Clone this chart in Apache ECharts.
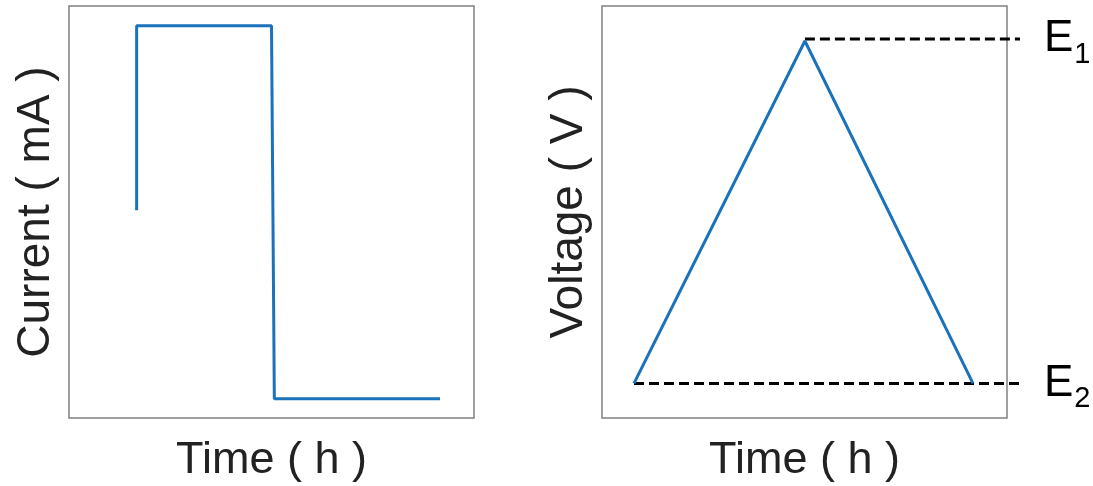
<!DOCTYPE html>
<html>
<head>
<meta charset="utf-8">
<script src="https://cdn.jsdelivr.net/npm/echarts@6/dist/echarts.min.js"></script>
<style>
  html, body { margin: 0; padding: 0; background: #fff; }
  #chart { width: 1093px; height: 486px; }
</style>
</head>
<body>
<div id="chart"></div>
<script>
// Galvanostatic step: current vs time (arbitrary units, 0–100 scale)
const currentTime  = [16.7, 16.7, 50.0, 50.7, 91.6];
const currentValue = [50.4, 95.2, 95.2, 4.7, 4.7];

// Linear potential sweep: voltage vs time
const voltageTime  = [7.9, 50.1, 91.6];
const voltageValue = [8.4, 91.5, 8.4];

// Reference potential levels (dashed guides run past the frame to x = 103.2)
const levelE1 = { start: 50.1, end: 103.2, value: 92.0, name: '1' };
const levelE2 = { start: 7.9,  end: 103.2, value: 8.4,  name: '2' };
const LEVEL_X_MAX = 103.2;

const axisTitles = { left: 'Current ( mA )', right: 'Voltage ( V )', time: 'Time ( h )' };

const FONT = '"Liberation Sans", Arial, Helvetica, sans-serif';
const BLUE = '#1a72bb';
const TEXT = '#222222';
const PLOT_W = 405, PLOT_H = 412;

function zip(xs, ys) { return xs.map((x, i) => [x, ys[i]]); }

function levelSeries(level) {
  return {
    type: 'line',
    xAxisIndex: 2, yAxisIndex: 2,
    symbol: 'none',
    silent: true,
    lineStyle: { color: '#000', width: 3, type: [10, 5] },
    endLabel: {
      show: true,
      distance: 24,
      formatter: '{e|E}{s|' + level.name + '}',
      rich: {
        e: { fontSize: 44, color: '#000', fontFamily: FONT },
        s: { fontSize: 29, color: '#000', fontFamily: FONT, padding: [32, 0, 0, 1] }
      }
    },
    data: [[level.start, level.value], [level.end, level.value]]
  };
}

function valueAxis(extra) {
  return Object.assign({
    type: 'value', min: 0, max: 100,
    axisLine: { show: false }, axisTick: { show: false },
    axisLabel: { show: false }, splitLine: { show: false },
    nameLocation: 'middle',
    nameTextStyle: { fontSize: 46, color: TEXT, fontFamily: FONT }
  }, extra);
}

function grid(left, width, show) {
  return {
    left: left, top: 6, width: width, height: PLOT_H,
    show: show, borderColor: '#808080', borderWidth: 1.5, backgroundColor: 'transparent',
    containLabel: false, outerBoundsMode: 'none'
  };
}

const chart = echarts.init(document.getElementById('chart'), null, { renderer: 'canvas' });
chart.setOption({
  animation: false,
  backgroundColor: '#fff',
  grid: [
    grid(69, PLOT_W, true),
    grid(602, PLOT_W, true),
    // same scale as the right panel, widened so the guides can extend beyond its frame
    grid(602, PLOT_W * LEVEL_X_MAX / 100, false)
  ],
  xAxis: [
    valueAxis({ gridIndex: 0, name: axisTitles.time, nameGap: 20, nameTextStyle: { fontSize: 45, color: TEXT, fontFamily: FONT } }),
    valueAxis({ gridIndex: 1, name: axisTitles.time, nameGap: 20, nameTextStyle: { fontSize: 45, color: TEXT, fontFamily: FONT } }),
    valueAxis({ gridIndex: 2, max: LEVEL_X_MAX })
  ],
  yAxis: [
    valueAxis({ gridIndex: 0, name: axisTitles.left, nameGap: 10 }),
    valueAxis({ gridIndex: 1, name: axisTitles.right, nameGap: 10 }),
    valueAxis({ gridIndex: 2 })
  ],
  series: [
    {
      type: 'line', xAxisIndex: 0, yAxisIndex: 0,
      symbol: 'none', silent: true,
      lineStyle: { color: BLUE, width: 3 },
      data: zip(currentTime, currentValue)
    },
    levelSeries(levelE1),
    levelSeries(levelE2),
    {
      type: 'line', xAxisIndex: 1, yAxisIndex: 1,
      symbol: 'none', silent: true,
      lineStyle: { color: BLUE, width: 3 },
      data: zip(voltageTime, voltageValue)
    }
  ]
});
</script>
</body>
</html>
